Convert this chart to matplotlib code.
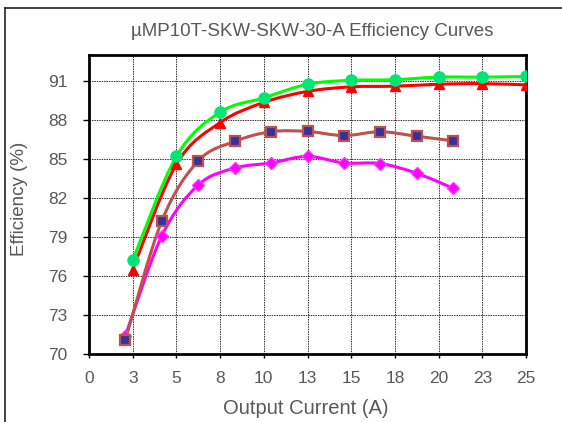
import numpy as np
import matplotlib
matplotlib.use('Agg')
import matplotlib.pyplot as plt
from matplotlib.path import Path
from matplotlib.patches import PathPatch
from matplotlib.lines import Line2D

plt.rcParams['font.family'] = ['Liberation Sans', 'DejaVu Sans']

# data
x_main = [2.5, 5.0, 7.5, 10.0, 12.5, 15.0, 17.5, 20.0, 22.5, 25.0]
eff_green = [77.2, 85.2, 88.6, 89.7, 90.75, 91.05, 91.1, 91.3, 91.3, 91.35]
eff_red = [76.5, 84.6, 87.8, 89.35, 90.2, 90.55, 90.6, 90.75, 90.8, 90.7]

x_low = [2.08, 4.17, 6.25, 8.33, 10.42, 12.5, 14.58, 16.67, 18.75, 20.83]
eff_brown = [71.1, 80.25, 84.85, 86.35, 87.1, 87.12, 86.8, 87.1, 86.75, 86.4]
eff_magenta = [71.4, 79.1, 83.0, 84.3, 84.7, 85.2, 84.7, 84.65, 83.9, 82.75]

x_ticks = [0, 2.5, 5, 7.5, 10, 12.5, 15, 17.5, 20, 22.5, 25]
x_tick_labels = ['0', '3', '5', '8', '10', '13', '15', '18', '20', '23', '25']
y_ticks = [70, 73, 76, 79, 82, 85, 88, 91]

TXT = '#595959'


def smooth_path(x, y, t=0.5):
    # Excel-like smoothed line: Catmull-Rom turned into cubic Bezier segments
    pts = np.column_stack([x, y]).astype(float)
    n = len(pts)
    verts = [pts[0]]
    codes = [Path.MOVETO]
    for i in range(n - 1):
        p0 = pts[i - 1] if i > 0 else pts[i]
        p1, p2 = pts[i], pts[i + 1]
        p3 = pts[i + 2] if i + 2 < n else pts[i + 1]
        c1 = p1 + (p2 - p0) * t / 3.0
        c2 = p2 - (p3 - p1) * t / 3.0
        verts += [c1, c2, p2]
        codes += [Path.CURVE4] * 3
    return Path(verts, codes)


fig = plt.figure(figsize=(5.62, 4.22), dpi=100)
ax = fig.add_axes([89 / 562, 68 / 422, 437 / 562, 299 / 422])

series = [
    (x_low, eff_magenta, '#ff00ff', dict(marker='D', ms=6, mfc='#ff00ff', mec='#ff33ff')),
    (x_low, eff_brown, '#c0504d', dict(marker='s', ms=7.5, mfc='#333399', mec='#c0504d', mew=1.6)),
    (x_main, eff_red, '#ff0000', dict(marker='^', ms=7, mfc='#ff0000', mec='#ff0000')),
    (x_main, eff_green, '#00ff00', dict(marker='o', ms=8, mfc='#00e676', mec='#00e676')),
]
for xs, ys, col, mk in series:
    ax.add_patch(PathPatch(smooth_path(xs, ys), facecolor='none', edgecolor=col,
                           lw=2.2, zorder=3))
    ax.plot(xs, ys, ls='none', zorder=4, **mk)

ax.set_xlim(0, 25)
ax.set_ylim(70, 93)
ax.set_xticks(x_ticks)
ax.set_xticklabels(x_tick_labels)
ax.set_yticks(y_ticks)
ax.grid(True, color='#333333', ls=(0, (1.5, 1)), lw=0.7)
for s in ax.spines.values():
    s.set_linewidth(2)
    s.set_color('black')
ax.tick_params(colors=TXT, labelsize=12.5, width=1, color='black')
ax.tick_params(axis='x', length=3, pad=9)
ax.tick_params(axis='y', length=4.5, pad=11)

ax.set_xlabel('Output Current (A)', color=TXT, fontsize=14.5, va='center')
ax.set_ylabel('Efficiency (%)', color=TXT, fontsize=13.5, va='center')
ax.xaxis.set_label_coords(0.496, -0.181)
ax.yaxis.set_label_coords(-0.158, 0.52)
fig.text(312 / 562, 1 - 31 / 422, 'µMP10T-SKW-SKW-30-A Efficiency Curves',
         ha='center', va='center', color=TXT, fontsize=13.5)

# chart-area border (cropped on right and bottom)
fig.add_artist(Line2D([5 / 562, 5 / 562], [0, 1 - 8 / 422], color='#222222', lw=1.2,
                      transform=fig.transFigure))
fig.add_artist(Line2D([5 / 562, 1], [1 - 8 / 422, 1 - 8 / 422], color='#222222', lw=1.2,
                      transform=fig.transFigure))

fig.savefig('out.png', dpi=100)
